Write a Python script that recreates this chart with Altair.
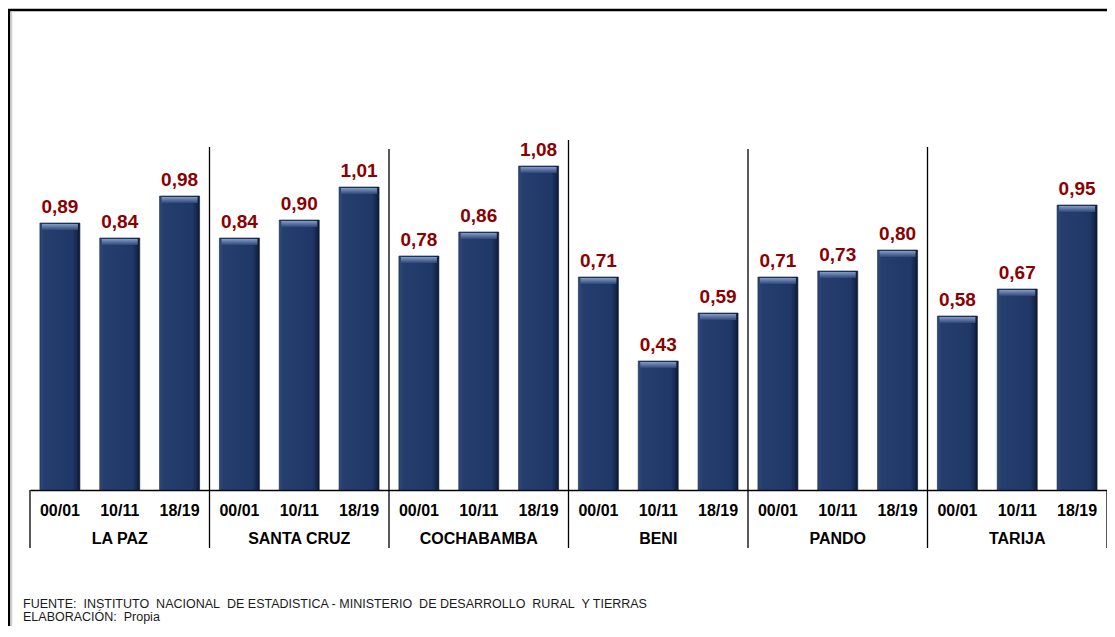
import altair as alt
import pandas as pd

# ---- data ----
groups = ["LA PAZ", "SANTA CRUZ", "COCHABAMBA", "BENI", "PANDO", "TARIJA"]
periods = ["00/01", "10/11", "18/19"]
la_paz = [0.89, 0.84, 0.98]
santa_cruz = [0.84, 0.90, 1.01]
cochabamba = [0.78, 0.86, 1.08]
beni = [0.71, 0.43, 0.59]
pando = [0.71, 0.73, 0.80]
tarija = [0.58, 0.67, 0.95]
series = [la_paz, santa_cruz, cochabamba, beni, pando, tarija]

footnote_lines = [
    "FUENTE:\u00a0 INSTITUTO\u00a0 NACIONAL\u00a0 DE ESTADISTICA - MINISTERIO\u00a0 DE DESARROLLO\u00a0 RURAL\u00a0 Y TIERRAS",
    "ELABORACIÓN:\u00a0 Propia",
]

# ---- style ----
FONT = "Liberation Sans"
W, H = 1077, 360
sep_tops_px = [17, 19, 10, 19, 17]   # top of separator lines (pixels in plot)
sep_bottom_px = 418

rows = []
for g, vals in zip(groups, series):
    for p, v in zip(periods, vals):
        rows.append({"group": g, "period": p, "cat": f"{g}|{p}", "value": v,
                     "label": f"{v:.2f}".replace(".", ",")})
df = pd.DataFrame(rows)
cat_order = list(df["cat"])

xscale = alt.Scale(domain=cat_order, paddingInner=0, paddingOuter=0)
yscale = alt.Scale(domain=[0, 1.2])

x_axis = alt.Axis(
    title=None, labelExpr="split(datum.label, '|')[1]", labelAngle=0,
    labelFont=FONT, labelFontSize=16, labelFontWeight="bold", labelColor="#000000",
    labelBaseline="middle", labelPadding=20, ticks=False, tickSize=0,
    domainColor="#000000", domainWidth=1.5, grid=False,
)

base = alt.Chart(df)

bar_grad = {
    "gradient": "linear", "x1": 0, "x2": 1, "y1": 0, "y2": 0,
    "stops": [
        {"offset": 0.0, "color": "#2f4a7a"},
        {"offset": 0.1, "color": "#253e6e"},
        {"offset": 0.82, "color": "#203867"},
        {"offset": 0.92, "color": "#16294f"},
        {"offset": 1.0, "color": "#0b1730"},
    ],
}
bevel_grad = {
    "gradient": "linear", "x1": 0, "x2": 0, "y1": 0, "y2": 1,
    "stops": [
        {"offset": 0.0, "color": "#8aa1c8"},
        {"offset": 1.0, "color": "#2e4878"},
    ],
}

bars = base.mark_bar(size=40, color=bar_grad, stroke="#0f1e3d", strokeWidth=0.6).encode(
    x=alt.X("cat:N", scale=xscale, axis=x_axis, sort=cat_order),
    y=alt.Y("value:Q", scale=yscale, axis=None),
)

bevel = base.mark_tick(size=36, thickness=6, color=bevel_grad, opacity=0.95, yOffset=4).encode(
    x=alt.X("cat:N", scale=xscale, sort=cat_order),
    y=alt.Y("value:Q", scale=yscale),
)

labels = base.mark_text(
    dy=-10, baseline="alphabetic", fontSize=19, fontWeight="bold", color="#8B0000", font=FONT
).encode(
    x=alt.X("cat:N", scale=xscale, sort=cat_order),
    y=alt.Y("value:Q", scale=yscale),
    text="label:N",
)

# group names under the period labels
gdf = pd.DataFrame({"group": groups, "cat": [f"{g}|{periods[1]}" for g in groups]})
group_labels = alt.Chart(gdf).mark_text(
    fontSize=16, fontWeight="bold", color="#000000", font=FONT, baseline="middle"
).encode(
    x=alt.X("cat:N", scale=xscale, sort=cat_order),
    y=alt.value(409),
    text="group:N",
)

# separators between groups
sdf = pd.DataFrame({"cat": [f"{g}|{periods[0]}" for g in groups[1:]], "top": sep_tops_px})
separators = alt.Chart(sdf).mark_rule(color="#000000", strokeWidth=1.3).encode(
    x=alt.X("cat:N", scale=xscale, sort=cat_order, bandPosition=0),
    y=alt.Y("top:Q", scale=None),
    y2=alt.value(sep_bottom_px),
)

one = pd.DataFrame({"k": [0]})
edge_left = alt.Chart(one).mark_rule(color="#000000", strokeWidth=1.3).encode(
    x=alt.value(0), y=alt.value(H), y2=alt.value(sep_bottom_px))
edge_right = alt.Chart(one).mark_rule(color="#000000", strokeWidth=1.3).encode(
    x=alt.value(W), y=alt.value(H), y2=alt.value(sep_bottom_px))

# outer frame (top and left)
frame_top = alt.Chart(one).mark_rule(color="#000000", strokeWidth=2.5).encode(
    x=alt.value(-22), x2=alt.value(W + 8), y=alt.value(-120))
frame_left = alt.Chart(one).mark_rule(color="#000000", strokeWidth=2.5).encode(
    x=alt.value(-21), y=alt.value(-121), y2=alt.value(H + 140))
frame_shadow = alt.Chart(one).mark_rule(color="#d0d0d0", strokeWidth=1.5).encode(
    x=alt.value(-18.5), y=alt.value(-119), y2=alt.value(H + 140))

foot_layers = []
for i, line in enumerate(footnote_lines):
    foot_layers.append(
        alt.Chart(one).mark_text(
            align="left", baseline="middle", fontSize=12.5, font=FONT, color="#1a1a1a"
        ).encode(x=alt.value(-7), y=alt.value(474 + 13 * i), text=alt.value(line))
    )

chart = alt.layer(
    bars, bevel, labels, group_labels, separators, edge_left, edge_right,
    frame_top, frame_left, frame_shadow, *foot_layers
).properties(
    width=W, height=H,
    autosize=alt.AutoSizeParams(type="none"),
    padding={"left": 22, "top": 122, "right": 0, "bottom": 136},
    background="#ffffff",
).configure_view(stroke=None)

chart.save("out.html", embed_options={"renderer": "svg", "actions": False})
